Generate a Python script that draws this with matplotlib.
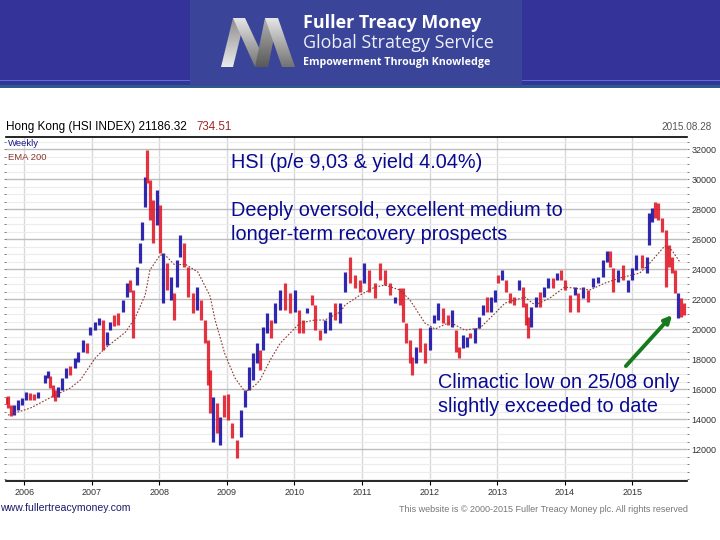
import numpy as np
import matplotlib
matplotlib.use('Agg')
import matplotlib.pyplot as plt
from matplotlib.patches import Polygon, Rectangle

# Weekly-ish bars, prices in thousands
bar_years = [2005.73, 2005.76, 2005.81, 2005.85, 2005.91, 2005.97, 2006.03, 2006.09, 2006.15, 2006.21, 2006.31, 2006.355,
    2006.385, 2006.43, 2006.46, 2006.50, 2006.56, 2006.62, 2006.68, 2006.75, 2006.80, 2006.87, 2006.93, 2006.98, 2007.05,
    2007.11, 2007.17, 2007.23, 2007.27, 2007.33, 2007.39, 2007.465, 2007.52, 2007.57, 2007.61, 2007.67, 2007.72, 2007.745,
    2007.79, 2007.82, 2007.86, 2007.91, 2007.97, 2008.01, 2008.06, 2008.115, 2008.175, 2008.22, 2008.26, 2008.31, 2008.37,
    2008.425, 2008.50, 2008.56, 2008.62, 2008.68, 2008.72, 2008.75, 2008.795, 2008.855, 2008.90, 2008.96, 2009.02, 2009.08,
    2009.15, 2009.21, 2009.27, 2009.33, 2009.39, 2009.45, 2009.49, 2009.535, 2009.595, 2009.65, 2009.71, 2009.79, 2009.86,
    2009.935, 2010.01, 2010.07, 2010.13, 2010.19, 2010.26, 2010.30, 2010.38, 2010.45, 2010.53, 2010.60, 2010.675, 2010.75,
    2010.82, 2010.90, 2010.97, 2011.03, 2011.10, 2011.19, 2011.27, 2011.34, 2011.41, 2011.49, 2011.56, 2011.61, 2011.65,
    2011.71, 2011.74, 2011.80, 2011.86, 2011.93, 2012.01, 2012.065, 2012.125, 2012.20, 2012.27, 2012.33, 2012.39, 2012.435,
    2012.495, 2012.55, 2012.60, 2012.67, 2012.73, 2012.79, 2012.85, 2012.91, 2012.97, 2013.01, 2013.07, 2013.13, 2013.19,
    2013.25, 2013.32, 2013.38, 2013.425, 2013.455, 2013.50, 2013.575, 2013.63, 2013.69, 2013.75, 2013.825, 2013.885,
    2013.945, 2014.00, 2014.08, 2014.15, 2014.195, 2014.27, 2014.34, 2014.415, 2014.49, 2014.565, 2014.625, 2014.67,
    2014.71, 2014.79, 2014.86, 2014.935, 2015.00, 2015.05, 2015.14, 2015.215, 2015.245, 2015.29, 2015.335, 2015.38,
    2015.44, 2015.50, 2015.54, 2015.585, 2015.63, 2015.675, 2015.72, 2015.765]
bar_highs = [15.47, 15.53, 14.93, 14.93, 15.27, 15.40, 15.80, 15.73, 15.67, 15.80, 16.93, 17.20,
    16.87, 16.27, 15.93, 16.13, 16.73, 17.40, 17.53, 18.07, 18.47, 19.27, 19.10, 20.13, 20.46,
    20.73, 20.60, 19.80, 20.46, 20.93, 21.06, 21.93, 23.06, 23.26, 22.60, 24.13, 25.73, 27.13,
    30.13, 31.93, 29.93, 28.60, 29.26, 28.26, 25.06, 24.40, 23.46, 22.40, 24.60, 26.26, 25.73,
    24.13, 22.40, 22.80, 21.93, 20.60, 19.26, 17.26, 15.46, 15.06, 14.13, 15.60, 15.66, 13.73,
    12.60, 14.60, 15.93, 17.46, 18.40, 19.06, 18.60, 20.13, 21.06, 20.60, 21.73, 22.60, 23.06,
    22.40, 22.60, 21.26, 20.60, 21.40, 22.26, 21.60, 19.93, 20.60, 21.13, 21.73, 21.73, 23.80,
    24.80, 23.60, 23.26, 24.40, 23.93, 23.06, 24.40, 23.93, 23.06, 22.13, 22.73, 22.73, 20.40,
    19.26, 18.13, 18.80, 20.06, 19.06, 20.13, 20.93, 21.73, 21.40, 20.93, 21.26, 19.93, 18.80,
    19.60, 19.46, 19.73, 20.06, 20.80, 21.60, 22.13, 22.13, 22.60, 23.60, 23.93, 23.26, 22.40,
    22.13, 23.26, 22.80, 21.73, 20.80, 21.46, 22.13, 22.46, 22.80, 23.40, 23.40, 23.73,
    23.93, 23.26, 22.26, 22.80, 22.40, 22.80, 22.60, 23.40, 23.46, 24.60, 25.20, 25.20,
    24.06, 23.93, 24.26, 23.26, 24.06, 24.93, 24.93, 24.80, 27.73, 28.06, 28.46, 28.40,
    27.40, 26.60, 25.60, 24.80, 23.93, 22.40, 22.06, 21.73]
bar_lows = [15.00, 14.73, 14.20, 14.27, 14.60, 14.93, 15.27, 15.27, 15.27, 15.40, 16.40, 16.73,
    16.07, 15.47, 15.20, 15.47, 15.93, 16.73, 16.93, 17.40, 17.80, 18.47, 18.40, 19.60, 19.93,
    20.26, 18.60, 18.93, 19.93, 20.20, 20.26, 21.13, 22.13, 22.46, 19.40, 22.93, 24.40, 25.93,
    28.13, 29.73, 27.26, 25.73, 26.93, 25.06, 21.73, 22.60, 21.93, 20.60, 22.80, 24.80, 24.13,
    22.13, 21.06, 21.26, 20.60, 19.06, 16.26, 14.40, 12.46, 13.06, 12.26, 14.13, 13.93, 12.73,
    11.40, 12.80, 14.80, 15.93, 16.60, 17.73, 17.26, 18.60, 19.73, 19.40, 20.40, 21.26, 21.26,
    21.06, 21.13, 19.73, 19.73, 21.06, 21.60, 19.93, 19.26, 19.73, 19.93, 20.60, 20.40, 22.46,
    23.06, 22.73, 22.46, 23.06, 22.46, 22.06, 23.26, 22.93, 22.26, 21.73, 21.60, 20.46, 19.06,
    17.73, 16.93, 17.73, 18.46, 17.73, 18.60, 20.40, 20.60, 20.40, 20.26, 20.13, 18.46, 18.06,
    18.73, 18.80, 19.40, 19.06, 20.06, 20.93, 21.13, 21.13, 21.80, 23.06, 23.26, 22.46, 21.73,
    21.60, 22.60, 21.46, 20.26, 19.40, 20.13, 21.46, 21.46, 22.13, 22.73, 22.73, 23.26,
    23.26, 22.60, 21.13, 22.26, 21.13, 22.06, 21.80, 22.80, 23.06, 23.46, 24.46, 24.13,
    22.46, 23.13, 23.26, 22.46, 23.26, 23.93, 24.06, 23.73, 25.60, 27.13, 27.40, 27.26,
    26.46, 22.80, 24.13, 23.73, 22.40, 20.73, 20.80, 20.93]
bar_up = [0, 0, 0, 1, 1, 1, 1, 0, 0, 1, 1, 1,
    0, 0, 0, 1, 1, 1, 0, 1, 1, 1, 0, 1, 1,
    1, 0, 1, 1, 0, 0, 1, 1, 0, 0, 1, 1, 1,
    1, 0, 0, 0, 1, 0, 1, 0, 1, 0, 1, 1, 0,
    0, 0, 1, 0, 0, 0, 0, 1, 0, 1, 0, 0, 0,
    0, 1, 1, 1, 1, 1, 0, 1, 1, 0, 1, 1, 0,
    0, 1, 0, 0, 1, 0, 0, 0, 1, 1, 0, 1, 1,
    0, 0, 0, 1, 0, 0, 0, 0, 0, 1, 0, 0, 0,
    0, 0, 1, 0, 0, 1, 1, 1, 0, 0, 1, 0, 0,
    1, 1, 0, 1, 1, 1, 0, 1, 1, 0, 1, 0, 0,
    0, 1, 0, 0, 0, 1, 1, 0, 1, 1, 0, 1,
    0, 0, 0, 1, 0, 1, 0, 1, 1, 1, 1, 0,
    0, 1, 0, 1, 1, 1, 0, 1, 1, 1, 0, 0,
    0, 0, 0, 0, 0, 1, 0, 0]

ema_years = [2005.76, 2006.09, 2006.46, 2006.68, 2006.83, 2007.05, 2007.20, 2007.50, 2007.64, 2007.79, 2007.86, 2008.01,
    2008.085, 2008.23, 2008.38, 2008.57, 2008.75, 2008.825, 2008.97, 2009.12, 2009.27, 2009.42, 2009.49, 2009.64, 2009.79,
    2009.935, 2010.08, 2010.30, 2010.45, 2010.675, 2010.75, 2010.97, 2011.19, 2011.34, 2011.56, 2011.71, 2011.93, 2012.08,
    2012.30, 2012.52, 2012.745, 2012.97, 2013.115, 2013.41, 2013.56, 2013.78, 2014.00, 2014.37, 2014.595, 2014.815,
    2015.11, 2015.26, 2015.48, 2015.585, 2015.705]
ema_values = [14.26, 14.73, 15.60, 16.06, 16.60, 18.06, 18.73, 19.80, 20.73, 22.26, 23.93, 24.93,
    24.93, 24.26, 24.33, 23.80, 22.20, 20.60, 18.33, 16.73, 15.80, 16.26, 16.60, 17.93, 19.06,
    19.73, 20.40, 20.60, 20.60, 21.13, 21.60, 22.26, 22.80, 22.93, 22.60, 21.93, 20.40, 20.00,
    20.46, 19.93, 20.06, 21.06, 21.73, 22.13, 21.60, 22.06, 22.80, 22.60, 23.06, 23.40,
    23.73, 24.40, 25.53, 25.26, 24.46]

year_ticks = [2006, 2007, 2008, 2009, 2010, 2011, 2012, 2013, 2014, 2015]
price_ticks = [12, 14, 16, 18, 20, 22, 24, 26, 28, 30, 32]

W, H = 720.0, 540.0


def box(x0, y0, x1, y1):
    return [x0 / W, 1 - y1 / H, (x1 - x0) / W, (y1 - y0) / H]


def ribbon(axis, pts, top_grey, bottom_grey):
    # One band of the logo, a vertical grey ramp clipped to the band
    ramp = np.linspace(top_grey, bottom_grey, 50).reshape(-1, 1)
    im = axis.imshow(ramp, cmap='gray', vmin=0, vmax=1, aspect='auto',
                     extent=(215, 297, 67, 18), zorder=2)
    im.set_clip_path(Polygon(pts, transform=axis.transData))


plt.rcParams['font.family'] = ['Liberation Sans', 'DejaVu Sans']
fig = plt.figure(figsize=(7.2, 5.4), dpi=100, facecolor='white')

# Chart area
ax = fig.add_axes(box(6, 137, 687, 481))
ax.set_xlim(2005.73, 2015.81)
ax.set_ylim(9.87, 32.8)
ax.set_yticks(price_ticks)
ax.set_yticks(np.arange(10, 33, 0.5), minor=True)
ax.set_yticklabels(['%d' % (p * 1000) for p in price_ticks], fontsize=6.5, color='#333333')
ax.set_xticks(year_ticks)
ax.set_xticklabels([str(y) for y in year_ticks], fontsize=6.5, color='#333333')
ax.yaxis.tick_right()
ax.tick_params(axis='y', which='both', left=True, length=1.2, width=0.6, pad=2, color='#666666')
ax.tick_params(axis='x', length=3, width=0.8, pad=2, color='k')
for s in ['left', 'right']:
    ax.spines[s].set_visible(False)
for s in ['top', 'bottom']:
    ax.spines[s].set_linewidth(1.2)
ax.set_axisbelow(True)
ax.grid(True, which='major', axis='y', color='#bdbdbd', lw=1.0)
ax.grid(True, which='minor', axis='y', color='#ececec', lw=0.8)
ax.grid(True, which='major', axis='x', color='#d8d8dc', lw=1.0)

# Bars and the EMA
up = np.array(bar_up) == 1
years = np.array(bar_years)
highs = np.array(bar_highs)
lows = np.array(bar_lows)
ax.vlines(years[up], lows[up], highs[up], color='#1a10a8', lw=2.3, alpha=0.9)
ax.vlines(years[~up], lows[~up], highs[~up], color='#e0101f', lw=2.3, alpha=0.85)
ax.plot(ema_years, ema_values, color='#8a3a30', lw=0.8, ls=(0, (1.5, 1.5)))

# Green arrow to the recent low
ax.annotate('', xy=(2015.59, 20.93), xytext=(2014.905, 17.53),
            arrowprops=dict(arrowstyle='-|>', color='#157a1d', lw=2.8, mutation_scale=11,
                            shrinkA=0, shrinkB=0))

# Pixel overlay for the banner and captions
ov = fig.add_axes([0, 0, 1, 1], zorder=5)
ov.axis('off')
ov.patch.set_alpha(0)

ov.add_patch(Rectangle((0, 0), W, 88, color='#333399', lw=0))
ov.add_patch(Rectangle((0, 85), W, 3, color='#2f5b8c', lw=0))
ov.add_patch(Rectangle((0, 79.7), W, 1, color='#5a70d0', lw=0))
ov.add_patch(Rectangle((190, 0), 332, 86, color='#3a4599', lw=0))

# Logo M
ribbon(ov, [(221, 67), (233, 67), (245, 18), (233, 18)], 0.55, 0.92)
ribbon(ov, [(233, 18), (245, 18), (268, 67), (255, 67)], 0.9, 0.45)
ribbon(ov, [(255, 67), (268, 67), (278, 18), (265, 18)], 0.7, 0.35)
ribbon(ov, [(265, 18), (278, 18), (295, 67), (282, 67)], 0.9, 0.45)
ov.set_xlim(0, W)
ov.set_ylim(H, 0)

ov.text(303, 23, 'Fuller Treacy Money', color='white', fontsize=12.85, fontweight='bold',
        family='Open Sans', va='center')
ov.text(303, 43, 'Global Strategy Service', color='#eef0f8', fontsize=12.9, family='Open Sans', va='center')
ov.text(303, 62, 'Empowerment Through Knowledge', color='white', fontsize=7.7, fontweight='bold',
        family='Open Sans', va='center')

# Chart header and footer
ov.text(6, 127, 'Hong Kong (HSI INDEX) 21186.32', color='black', fontsize=8.5, va='center')
ov.text(196, 127, '734.51', color='#9a2a2a', fontsize=8.3, va='center')
ov.text(712, 127, '2015.08.28', color='#555555', fontsize=7.2, va='center', ha='right')
ov.text(8, 143, 'Weekly', color='#1a1a8c', fontsize=6.8, va='center')
ov.text(8, 157, 'EMA 200', color='#8a3a30', fontsize=6.8, va='center')
ov.text(0, 508, 'www.fullertreacymoney.com', color='#1a1a6c', fontsize=7.6, va='center')
ov.text(688, 509, 'This website is \u00a9 2000-2015 Fuller Treacy Money plc. All rights reserved',
        color='#777777', fontsize=6.5, va='center', ha='right')

# Captions
navy = '#0a0a90'
ov.text(231, 163, 'HSI (p/e 9,03 & yield 4.04%)', color=navy, fontsize=14.3, va='center')
ov.text(231, 210, 'Deeply oversold, excellent medium to', color=navy, fontsize=14.3, va='center')
ov.text(231, 235, 'longer-term recovery prospects', color=navy, fontsize=14.3, va='center')
ov.text(438, 383, 'Climactic low on 25/08 only', color=navy, fontsize=14.3, va='center')
ov.text(438, 407, 'slightly exceeded to date', color=navy, fontsize=14.3, va='center')

fig.savefig('out.png', dpi=100)
